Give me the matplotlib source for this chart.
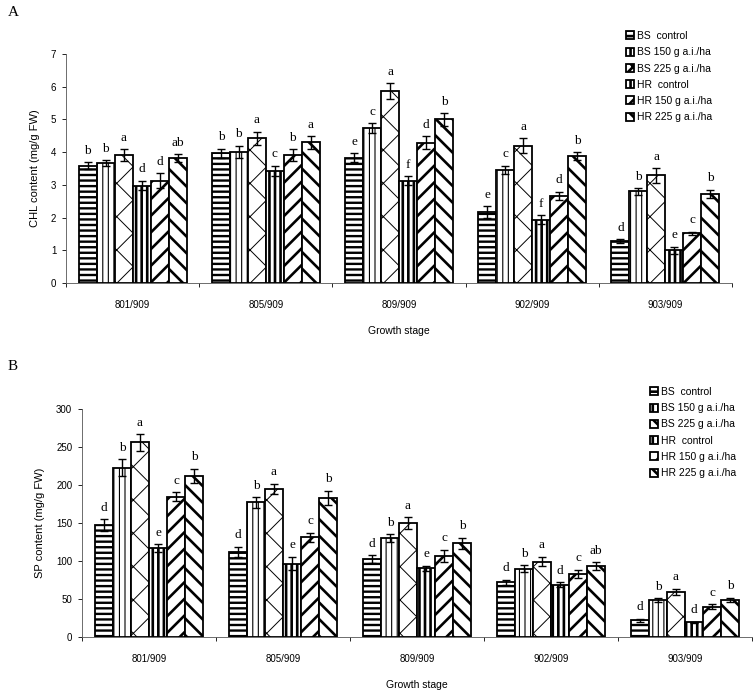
import numpy as np
import matplotlib
matplotlib.use('Agg')
from matplotlib import pyplot as plt

# data
stages = ['801/909', '805/909', '809/909', '902/909', '903/909']
series = ['BS  control', 'BS 150 g a.i./ha', 'BS 225 g a.i./ha',
          'HR  control', 'HR 150 g a.i./ha', 'HR 225 g a.i./ha']

# CHL content (mg/g FW), one list per series across the 5 stages
chl_bs_ctrl = [3.59, 3.96, 3.83, 2.17, 1.28]
chl_bs_150 = [3.67, 4.01, 4.74, 3.46, 2.80]
chl_bs_225 = [3.91, 4.42, 5.86, 4.20, 3.29]
chl_hr_ctrl = [2.98, 3.43, 3.13, 1.93, 1.00]
chl_hr_150 = [3.13, 3.91, 4.29, 2.66, 1.52]
chl_hr_225 = [3.81, 4.30, 5.00, 3.88, 2.73]

chl_err_bs_ctrl = [0.10, 0.14, 0.13, 0.17, 0.05]
chl_err_bs_150 = [0.08, 0.18, 0.14, 0.12, 0.10]
chl_err_bs_225 = [0.18, 0.20, 0.25, 0.23, 0.22]
chl_err_hr_ctrl = [0.14, 0.15, 0.13, 0.14, 0.10]
chl_err_hr_150 = [0.23, 0.18, 0.20, 0.12, 0.04]
chl_err_hr_225 = [0.12, 0.19, 0.19, 0.12, 0.12]

chl_letters = [['b', 'b', 'a', 'd', 'd', 'ab'],
               ['b', 'b', 'a', 'c', 'b', 'a'],
               ['e', 'c', 'a', 'f', 'd', 'b'],
               ['e', 'c', 'a', 'f', 'd', 'b'],
               ['d', 'b', 'a', 'e', 'c', 'b']]

# SP content (mg/g FW)
sp_bs_ctrl = [147.6, 112.0, 102.3, 72.0, 22.0]
sp_bs_150 = [222.7, 177.0, 130.0, 89.6, 48.7]
sp_bs_225 = [256.0, 194.6, 149.8, 99.3, 59.7]
sp_hr_ctrl = [116.8, 96.6, 90.5, 69.0, 19.3]
sp_hr_150 = [184.5, 131.3, 107.0, 82.6, 40.0]
sp_hr_225 = [212.0, 182.7, 123.4, 93.5, 48.7]

sp_err_bs_ctrl = [7.5, 6.5, 5.0, 3.0, 2.0]
sp_err_bs_150 = [11.0, 7.0, 5.0, 4.5, 2.0]
sp_err_bs_225 = [11.0, 7.0, 7.5, 6.0, 4.0]
sp_err_hr_ctrl = [5.0, 9.0, 3.0, 3.0, 1.0]
sp_err_hr_150 = [6.0, 6.0, 8.0, 5.5, 3.0]
sp_err_hr_225 = [9.5, 9.5, 7.0, 5.0, 3.0]

sp_letters = [['d', 'b', 'a', 'e', 'c', 'b'],
              ['d', 'b', 'a', 'e', 'c', 'b'],
              ['d', 'b', 'a', 'e', 'c', 'b'],
              ['d', 'b', 'a', 'd', 'c', 'ab'],
              ['d', 'b', 'a', 'd', 'c', 'b']]

chl_vals = [chl_bs_ctrl, chl_bs_150, chl_bs_225, chl_hr_ctrl, chl_hr_150, chl_hr_225]
chl_errs = [chl_err_bs_ctrl, chl_err_bs_150, chl_err_bs_225, chl_err_hr_ctrl, chl_err_hr_150, chl_err_hr_225]
sp_vals = [sp_bs_ctrl, sp_bs_150, sp_bs_225, sp_hr_ctrl, sp_hr_150, sp_hr_225]
sp_errs = [sp_err_bs_ctrl, sp_err_bs_150, sp_err_bs_225, sp_err_hr_ctrl, sp_err_hr_150, sp_err_hr_225]

# style of each series: hatch, hatch line width
hatches = ['---', '|||', 'x', '|||', '//', '\\\\']
hatch_lw = [1.7, 0.8, 0.7, 1.9, 1.9, 1.9]

SANS = 'Liberation Sans'
SERIF = 'Liberation Serif'


def draw_panel(ax, vals, errs, letters, ymax, ystep, ylabel):
    x = np.arange(len(stages))
    w = 0.135
    handles = []
    for i in range(6):
        plt.rcParams['hatch.linewidth'] = hatch_lw[i]
        pos = x + (i - 2.5) * w
        b = ax.bar(pos, vals[i], w, color='white', edgecolor='black',
                   linewidth=1.3, hatch=hatches[i], label=series[i], zorder=2)
        for p in b.patches:
            if hasattr(p, 'set_hatch_linewidth'):
                p.set_hatch_linewidth(hatch_lw[i])
        ax.errorbar(pos, vals[i], yerr=errs[i], fmt='none', ecolor='black',
                    elinewidth=1.0, capsize=3.2, capthick=1.0, zorder=3)
        for j in range(len(stages)):
            ax.annotate(letters[j][i], (pos[j], vals[i][j] + errs[i][j]),
                        xytext=(0, 4), textcoords='offset points',
                        ha='center', va='bottom', fontsize=9.5, family=SERIF)
        handles.append(b)
    ax.set_xlim(-0.5, len(stages) - 0.5)
    ax.set_ylim(0, ymax)
    ax.set_yticks(np.arange(0, ymax + ystep / 2, ystep))
    ax.set_xticks(np.arange(len(stages) + 1) - 0.5)
    ax.set_xticklabels([])
    ax.set_xticks(x, minor=True)
    ax.set_xticklabels(stages, minor=True)
    ax.tick_params(axis='x', which='major', length=3, width=0.6, direction='out')
    ax.tick_params(axis='x', which='minor', length=0, pad=12.5, labelsize=7)
    ax.tick_params(axis='y', length=3, width=0.6, labelsize=7, pad=4)
    for lab in ax.get_xticklabels(minor=True) + ax.get_yticklabels():
        lab.set_family(SANS)
    for s in ['top', 'right']:
        ax.spines[s].set_visible(False)
    ax.spines['left'].set_linewidth(0.6)
    ax.spines['bottom'].set_linewidth(0.6)
    ax.spines['left'].set_color('#555555')
    ax.spines['bottom'].set_color('#555555')
    ax.set_ylabel(ylabel, family=SANS, fontsize=8, labelpad=8)
    ax.set_xlabel('Growth stage', family=SANS, fontsize=7.5, labelpad=11)
    return handles


fig = plt.figure(figsize=(7.56, 6.97), dpi=100)

axA = fig.add_axes([66 / 756, 1 - 283 / 697, 666 / 756, 229 / 697])
hA = draw_panel(axA, chl_vals, chl_errs, chl_letters, 7, 1, 'CHL content (mg/g FW)')

axB = fig.add_axes([82 / 756, 1 - 637 / 697, 670 / 756, 228 / 697])
hB = draw_panel(axB, sp_vals, sp_errs, sp_letters, 300, 50, 'SP content (mg/g FW)')

legA = fig.legend(handles=hA, labels=series, loc='upper left',
                  bbox_to_anchor=(626 / 756, 1 - 31 / 697), frameon=False,
                  prop={'family': SANS, 'size': 7.5}, handlelength=0.8,
                  handleheight=0.8, handletextpad=0.25, labelspacing=0.6,
                  borderpad=0, borderaxespad=0)
legB = fig.legend(handles=hB, labels=series, loc='upper left',
                  bbox_to_anchor=(650 / 756, 1 - 387 / 697), frameon=False,
                  prop={'family': SANS, 'size': 7.5}, handlelength=0.8,
                  handleheight=0.8, handletextpad=0.25, labelspacing=0.6,
                  borderpad=0, borderaxespad=0)

fig.text(8 / 756, 1 - 12 / 697, 'A', family=SERIF, fontsize=11, va='center', ha='left')
fig.text(8 / 756, 1 - 366 / 697, 'B', family=SERIF, fontsize=11, va='center', ha='left')

plt.savefig('out.png', dpi=100)
